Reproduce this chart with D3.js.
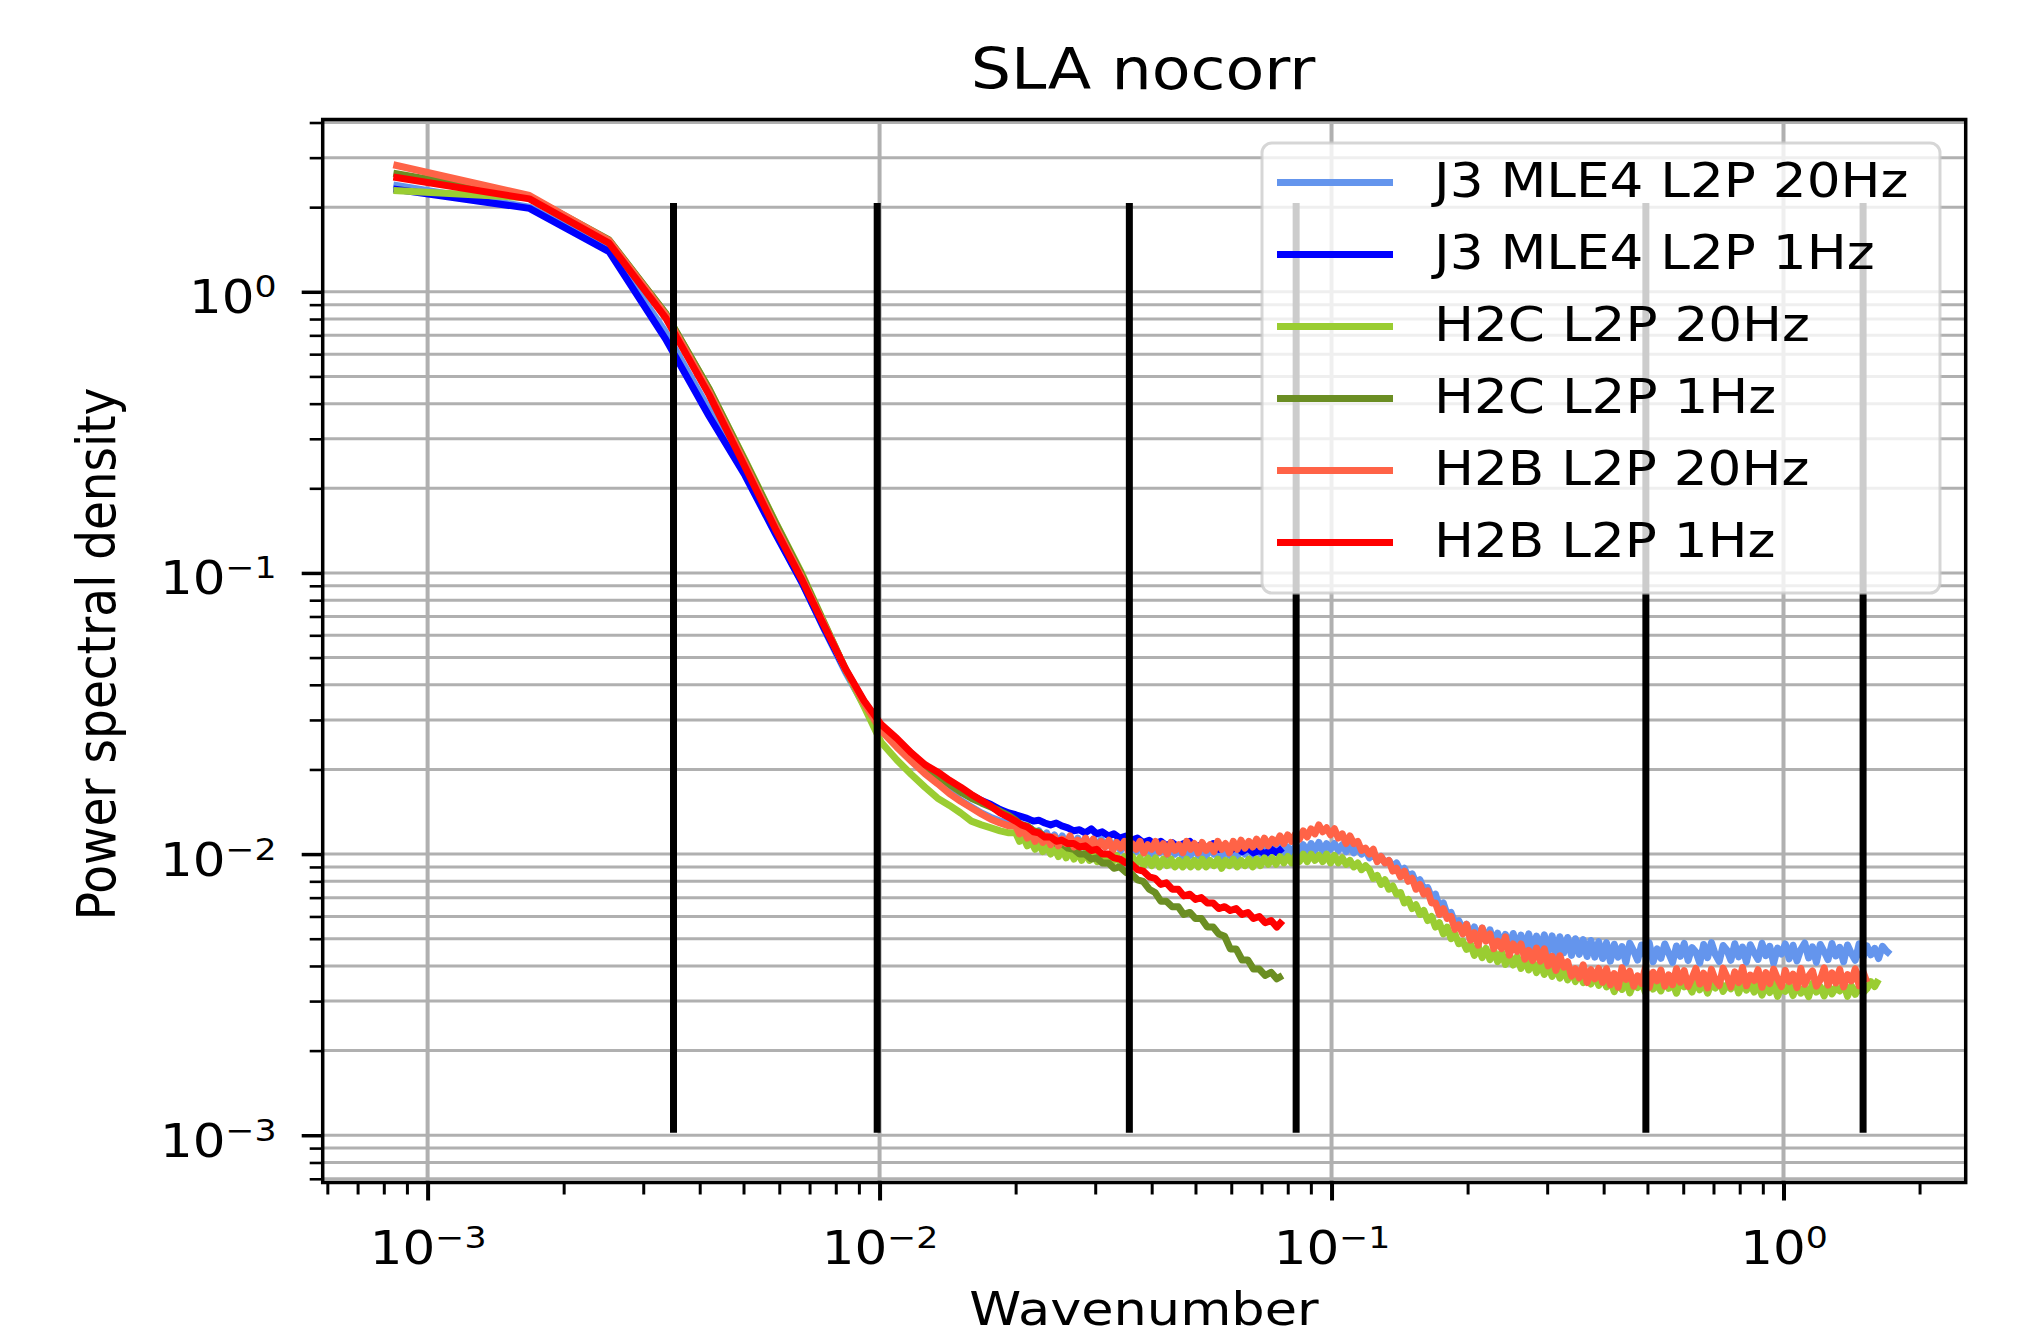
<!DOCTYPE html>
<html>
<head>
<meta charset="utf-8">
<script src="https://cdn.jsdelivr.net/npm/d3@7/dist/d3.min.js"></script>
<style>
  body { margin: 0; background: #fff; }
  svg text { font-family: "DejaVu Sans", sans-serif; fill: #000; }
</style>
</head>
<body>
<svg id="chart" width="2025" height="1338"></svg>
<script>
(function() {

  // wavenumber bins: first 23 are n * k0, shared by every series
  const kLow = [0.00084, 0.00168, 0.00252, 0.00336, 0.0042, 0.00504, 0.00588, 0.00672, 0.00756, 0.0084,
    0.00924, 0.01008, 0.01092, 0.01176, 0.0126, 0.01344, 0.01428, 0.01512, 0.01596, 0.0168,
    0.01764, 0.01848, 0.01932];
  // 1 Hz series continue on this grid up to their end
  const kHigh1 = [0.0200, 0.0206, 0.0212, 0.0219, 0.0225, 0.0232, 0.0239, 0.0246, 0.0253, 0.0261,
    0.0269, 0.0277, 0.0285, 0.0294, 0.0302, 0.0311, 0.0321, 0.0330, 0.0340, 0.0351,
    0.0361, 0.0372, 0.0383, 0.0395, 0.0407, 0.0419, 0.0431, 0.0444, 0.0458, 0.0471,
    0.0486, 0.0500, 0.0515, 0.0531, 0.0547, 0.0563, 0.0580, 0.0597, 0.0615, 0.0634,
    0.0653, 0.0672, 0.0692, 0.0713, 0.0735, 0.0757, 0.0779];
  // 20 Hz series continue on this finer grid
  const kHigh20 = [0.02000, 0.02040, 0.02081, 0.02122, 0.02165, 0.02208, 0.02252, 0.02297, 0.02343, 0.02390,
    0.02438, 0.02487, 0.02536, 0.02587, 0.02639, 0.02692, 0.02745, 0.02800, 0.02856, 0.02913,
    0.02972, 0.03031, 0.03092, 0.03154, 0.03217, 0.03281, 0.03347, 0.03414, 0.03482, 0.03551,
    0.03623, 0.03695, 0.03769, 0.03844, 0.03921, 0.04000, 0.04080, 0.04161, 0.04244, 0.04329,
    0.04416, 0.04504, 0.04594, 0.04686, 0.04780, 0.04876, 0.04973, 0.05073, 0.05174, 0.05278,
    0.05383, 0.05491, 0.05601, 0.05713, 0.05827, 0.05944, 0.06062, 0.06184, 0.06307, 0.06433,
    0.06562, 0.06693, 0.06827, 0.06964, 0.07103, 0.07245, 0.07390, 0.07538, 0.07689, 0.07842,
    0.07999, 0.08159, 0.08322, 0.08489, 0.08659, 0.08832, 0.09009, 0.09189, 0.09373, 0.09560,
    0.09751, 0.09946, 0.1015, 0.1035, 0.1056, 0.1077, 0.1098, 0.1120, 0.1143, 0.1165,
    0.1189, 0.1213, 0.1237, 0.1262, 0.1287, 0.1313, 0.1339, 0.1366, 0.1393, 0.1421,
    0.1449, 0.1478, 0.1508, 0.1538, 0.1569, 0.1600, 0.1632, 0.1665, 0.1698, 0.1732,
    0.1767, 0.1802, 0.1838, 0.1875, 0.1912, 0.1951, 0.1990, 0.2029, 0.2070, 0.2111,
    0.2154, 0.2197, 0.2241, 0.2285, 0.2331, 0.2378, 0.2425, 0.2474, 0.2523, 0.2574,
    0.2625, 0.2678, 0.2731, 0.2786, 0.2841, 0.2898, 0.2956, 0.3015, 0.3076, 0.3137,
    0.3200, 0.3264, 0.3329, 0.3396, 0.3464, 0.3533, 0.3604, 0.3676, 0.3749, 0.3824,
    0.3901, 0.3979, 0.4058, 0.4139, 0.4222, 0.4307, 0.4393, 0.4481, 0.4570, 0.4662,
    0.4755, 0.4850, 0.4947, 0.5046, 0.5147, 0.5250, 0.5355, 0.5462, 0.5571, 0.5683,
    0.5796, 0.5912, 0.6030, 0.6151, 0.6274, 0.6399, 0.6527, 0.6658, 0.6791, 0.6927,
    0.7066, 0.7207, 0.7351, 0.7498, 0.7648, 0.7801, 0.7957, 0.8116, 0.8278, 0.8444,
    0.8613, 0.8785, 0.8961, 0.9140, 0.9323, 0.9509, 0.9700, 0.9894, 1.0091, 1.0293,
    1.0499, 1.0709, 1.0923, 1.1142, 1.1365, 1.1592, 1.1824, 1.2060, 1.2301, 1.2547,
    1.2798, 1.3054, 1.3315, 1.3582, 1.3853, 1.4130, 1.4413, 1.4701, 1.4995, 1.5295,
    1.5601, 1.5913, 1.6231, 1.6556, 1.6887, 1.7225];

  // PSD on kLow
  const j3_20hz_low = [2.40, 2.00, 1.42, 0.72, 0.38, 0.228, 0.140, 0.093, 0.0625, 0.0445, 0.0338, 0.0278,
    0.0243, 0.0217, 0.0196, 0.0180, 0.0166, 0.0155, 0.0147, 0.0140, 0.0135, 0.0131, 0.0129];
  const j3_1hz_low = [2.32, 1.98, 1.39, 0.68, 0.36, 0.222, 0.138, 0.093, 0.063, 0.0452, 0.0348, 0.0286,
    0.0255, 0.0226, 0.0205, 0.0192, 0.0180, 0.0171, 0.0162, 0.0155, 0.0150, 0.0144, 0.0140];
  const h2c_20hz_low = [2.29, 2.16, 1.52, 0.84, 0.45, 0.252, 0.152, 0.100, 0.066, 0.0455, 0.0335, 0.0250,
    0.0216, 0.0192, 0.0173, 0.0158, 0.0149, 0.0140, 0.0131, 0.0127, 0.0124, 0.0121, 0.0119];
  const h2c_1hz_low = [2.64, 2.18, 1.53, 0.84, 0.45, 0.25, 0.151, 0.099, 0.0655, 0.0455, 0.0345, 0.0280,
    0.0255, 0.0228, 0.0206, 0.0190, 0.0177, 0.0166, 0.0158, 0.0152, 0.0147, 0.0142, 0.0137];
  const h2b_20hz_low = [2.83, 2.20, 1.52, 0.83, 0.44, 0.245, 0.147, 0.097, 0.065, 0.0455, 0.0345, 0.0275,
    0.0240, 0.0214, 0.0193, 0.0178, 0.0164, 0.0154, 0.0146, 0.0139, 0.0133, 0.0129, 0.0126];
  const h2b_1hz_low = [2.56, 2.14, 1.49, 0.81, 0.429, 0.238, 0.1435, 0.0951, 0.0643, 0.0457, 0.0351, 0.0289,
    0.0258, 0.0229, 0.0208, 0.0196, 0.0183, 0.0173, 0.0163, 0.0155, 0.0148, 0.0140, 0.0135];

  // PSD on kHigh20 (20 Hz, noisy; each stops at its own last bin)
  const j3_20hz_high = [0.0131, 0.0122, 0.0127, 0.0118, 0.0123, 0.0115, 0.0121, 0.0113, 0.0119, 0.0111, 0.0117,
    0.0109, 0.0116, 0.0108, 0.0115, 0.0107, 0.0114, 0.0106, 0.0114, 0.0106, 0.0113,
    0.0105, 0.0113, 0.0106, 0.0112, 0.0104, 0.0111, 0.0103, 0.0110, 0.0104, 0.0109, 0.0102, 0.0109, 0.0101, 0.0108,
    0.0100, 0.0107, 0.0101, 0.0106, 0.0099, 0.0106, 0.0100, 0.0105, 0.0098, 0.0106, 0.0099, 0.0105, 0.0099,
    0.0105, 0.0098, 0.0106, 0.0100, 0.0104, 0.0097, 0.0105, 0.0099, 0.0106, 0.0098, 0.0104, 0.0100, 0.0106,
    0.0099, 0.0106, 0.0100, 0.0107, 0.0099, 0.0105, 0.0101, 0.0107, 0.0100, 0.0106,
    0.0101, 0.0107, 0.0102, 0.0108, 0.0101, 0.0109, 0.0103, 0.0110, 0.0102, 0.0109, 0.0104,
    0.0109, 0.0103, 0.0108, 0.0102, 0.0107, 0.0101,
    0.0106, 0.0100, 0.0103, 0.0097, 0.0100, 0.0095, 0.0098, 0.0093, 0.0095, 0.0090,
    0.0093, 0.0087, 0.0089, 0.0083, 0.0085, 0.0079, 0.0081, 0.0075, 0.0076, 0.0070,
    0.0072, 0.0065, 0.0067, 0.0061, 0.0062, 0.0057, 0.0058, 0.0054,
    0.00563, 0.00512, 0.00551, 0.00503, 0.00545, 0.00496, 0.00538, 0.00487, 0.00523, 0.00478, 0.00518, 0.00468,
    0.00522, 0.00458, 0.00515, 0.00462, 0.00520, 0.00452, 0.00511, 0.00460, 0.00516, 0.00447,
    0.00512, 0.00441, 0.00508, 0.00445, 0.00505, 0.00436, 0.00500, 0.00440, 0.00496, 0.00432,
    0.00493, 0.00430, 0.00488, 0.00425, 0.00484,
    0.00416, 0.00478, 0.00430, 0.00469, 0.00411, 0.00482, 0.00452, 0.00420, 0.00475, 0.00437,
    0.00483, 0.00414, 0.00460, 0.00426, 0.00479, 0.00444, 0.00412, 0.00471, 0.00433, 0.00481,
    0.00418, 0.00465, 0.00448, 0.00410, 0.00477, 0.00428, 0.00484, 0.00439, 0.00415, 0.00473,
    0.00455, 0.00419, 0.00480, 0.00431, 0.00467, 0.00413, 0.00476, 0.00446, 0.00422, 0.00482,
    0.00435, 0.00470, 0.00409, 0.00463, 0.00441, 0.00479, 0.00424, 0.00474, 0.00417, 0.00458,
    0.00483, 0.00427, 0.00468, 0.00412, 0.00477, 0.00450, 0.00421, 0.00481, 0.00434, 0.00466,
    0.00414, 0.00475, 0.00443, 0.00419, 0.00480, 0.00429, 0.00472, 0.00438, 0.00462, 0.00425,
    0.00470, 0.00452, 0.00440];
  const h2c_20hz_high = [0.0119, 0.0111, 0.0115, 0.0107, 0.0111, 0.0104, 0.0109, 0.0102, 0.0107, 0.0100, 0.0105,
    0.0098, 0.0104, 0.0097, 0.0103, 0.0096, 0.0102, 0.0095, 0.0101, 0.0095, 0.0100,
    0.0094, 0.0100, 0.0093, 0.0099, 0.0094, 0.0099, 0.0092, 0.0098, 0.0093, 0.0098, 0.0092, 0.0097, 0.0091, 0.0097,
    0.0091, 0.0097, 0.0090, 0.0096, 0.0091, 0.0096, 0.0090, 0.0095, 0.0090, 0.0096, 0.0090, 0.0095, 0.0090,
    0.0096, 0.0090, 0.0095, 0.0091, 0.0096, 0.0089, 0.0095, 0.0091, 0.0096, 0.0090, 0.0095, 0.0091, 0.0096, 0.0090, 0.0096,
    0.0091, 0.0097, 0.0092, 0.0097, 0.0092, 0.0098, 0.0093, 0.0098, 0.0093, 0.0099, 0.0094,
    0.0100, 0.0094, 0.0100, 0.0095, 0.0099, 0.0094, 0.0100,
    0.0093, 0.0099, 0.0093, 0.0097, 0.0092, 0.0095, 0.0090, 0.0093, 0.0088, 0.0091,
    0.0088, 0.0082, 0.0084, 0.0078, 0.0081, 0.0075, 0.0077, 0.0072, 0.0073, 0.0067,
    0.0069, 0.0064, 0.0066, 0.0061, 0.0063, 0.0058, 0.0060, 0.0055, 0.0057, 0.0052,
    0.0055, 0.0050, 0.0052, 0.0048, 0.0049,
    0.00458, 0.00479, 0.00436, 0.00470, 0.00428, 0.00462, 0.00421, 0.00455, 0.00414, 0.00447,
    0.00405, 0.00439, 0.00403, 0.00432, 0.00392, 0.00424, 0.00387, 0.00418, 0.00379, 0.00410,
    0.00373, 0.00403, 0.00367, 0.00397, 0.00362, 0.00392, 0.00357, 0.00386, 0.00352, 0.00381,
    0.00349, 0.00377, 0.00345, 0.00373, 0.00341, 0.00369, 0.00337,
    0.00355, 0.00324, 0.00349, 0.00330, 0.00358, 0.00321, 0.00346, 0.00335, 0.00353, 0.00322,
    0.00357, 0.00331, 0.00344, 0.00326, 0.00359, 0.00333, 0.00348, 0.00320, 0.00354, 0.00337,
    0.00345, 0.00323, 0.00356, 0.00329, 0.00351, 0.00320, 0.00347, 0.00334, 0.00358, 0.00325,
    0.00343, 0.00332, 0.00355, 0.00321, 0.00350, 0.00328, 0.00346, 0.00323,
    0.00345, 0.00315, 0.00339, 0.00322, 0.00348, 0.00312, 0.00336, 0.00325, 0.00343, 0.00314,
    0.00346, 0.00320, 0.00334, 0.00311, 0.00347, 0.00323, 0.00338, 0.00313, 0.00344, 0.00318,
    0.00335, 0.00326, 0.00346, 0.00312, 0.00340, 0.00317, 0.00337, 0.00321,
    0.00332, 0.00352, 0.00338, 0.00358];
  const h2b_20hz_high = [0.0126, 0.0118, 0.0122, 0.0114, 0.0119, 0.0111, 0.0117, 0.0110, 0.0116, 0.0108,
    0.0115, 0.0107, 0.0113, 0.0109, 0.0116, 0.0106, 0.0112, 0.0108, 0.0114, 0.0105,
    0.0113, 0.0104, 0.0111, 0.0106, 0.0112, 0.0103, 0.0110, 0.0105, 0.0111, 0.0102,
    0.0109, 0.0104, 0.0111, 0.0101, 0.0108, 0.0104, 0.0111, 0.0102, 0.0109, 0.0100,
    0.0110, 0.0103, 0.0108, 0.0101, 0.0111, 0.0104, 0.0109, 0.0101, 0.0110, 0.0103,
    0.0108, 0.0102, 0.0111, 0.0104, 0.0109, 0.0101, 0.0111, 0.0104, 0.0112, 0.0105,
    0.0111, 0.0106, 0.0113, 0.0106, 0.0114, 0.0107, 0.0113, 0.0109, 0.0116, 0.0109,
    0.0117, 0.0111, 0.0118, 0.0113, 0.0121, 0.0115, 0.0123, 0.0118, 0.0127, 0.0120,
    0.0124, 0.0117,
    0.0123, 0.0114, 0.0118, 0.0109, 0.0116, 0.0109, 0.0111, 0.0103, 0.0105, 0.0100,
    0.0104, 0.0094, 0.0098, 0.0093, 0.0095, 0.0087, 0.0089, 0.0083, 0.0087, 0.0080,
    0.0082, 0.0075, 0.0078, 0.0072, 0.0074, 0.0067, 0.0067, 0.0061, 0.0064, 0.0059,
    0.0060, 0.0054, 0.0056, 0.0052,
    0.00562, 0.00494, 0.00525, 0.00474, 0.00546, 0.00490, 0.00520, 0.00461, 0.00490, 0.00461,
    0.00508, 0.00437, 0.00479, 0.00451, 0.00479, 0.00423, 0.00454, 0.00418, 0.00463, 0.00416,
    0.00460, 0.00400, 0.00433, 0.00386, 0.00435, 0.00396, 0.00414, 0.00368, 0.00391, 0.00363,
    0.00404, 0.00349, 0.00388, 0.00360, 0.00392, 0.00350,
    0.00391, 0.00343, 0.00376, 0.00336, 0.00394, 0.00358, 0.00383, 0.00339, 0.00369, 0.00347,
    0.00394, 0.00336, 0.00380, 0.00354, 0.00387, 0.00339, 0.00372, 0.00343, 0.00391, 0.00350,
    0.00385, 0.00338, 0.00362, 0.00392, 0.00345, 0.00377, 0.00334, 0.00389, 0.00356, 0.00341,
    0.00393, 0.00366, 0.00337, 0.00381, 0.00349, 0.00395, 0.00340, 0.00371, 0.00355, 0.00388,
    0.00336, 0.00379, 0.00346, 0.00390, 0.00360, 0.00338, 0.00386, 0.00352, 0.00374, 0.00335,
    0.00392, 0.00344, 0.00368, 0.00384, 0.00339, 0.00357, 0.00394, 0.00342, 0.00378, 0.00348,
    0.00389, 0.00337, 0.00373, 0.00354, 0.00391, 0.00340, 0.00382, 0.00350];

  // PSD on kHigh1 (1 Hz)
  const j3_1hz_high = [0.0138, 0.0136, 0.0134, 0.0131, 0.0132, 0.0129, 0.0127, 0.0129, 0.0126, 0.0124,
    0.0121, 0.0122, 0.0119, 0.0123, 0.0118, 0.0120, 0.0116, 0.0118, 0.0114, 0.0116,
    0.0112, 0.0114, 0.0110, 0.0112, 0.0108, 0.0111, 0.0107, 0.0110, 0.0106, 0.0109,
    0.0111, 0.0106, 0.0108, 0.0105, 0.0109, 0.0104, 0.0107, 0.0103, 0.0106, 0.0102,
    0.0105, 0.0101, 0.0103, 0.0100, 0.0104, 0.0101, 0.0105];
  const h2c_1hz_high = [0.0132, 0.0127, 0.0126, 0.0121, 0.0120, 0.0115, 0.0114, 0.0109, 0.0109, 0.0105,
    0.0104, 0.0100, 0.0100, 0.0096, 0.0097, 0.0093, 0.0093, 0.0089, 0.0090, 0.0086,
    0.0085, 0.0081, 0.0080, 0.0075, 0.0073, 0.0068, 0.0068, 0.0065, 0.0065, 0.0061,
    0.0062, 0.0059, 0.0059, 0.0055, 0.0055, 0.0052, 0.0051, 0.0046, 0.0046, 0.0042,
    0.0042, 0.0039, 0.0039, 0.0037, 0.0038, 0.0036, 0.0037];
  const h2b_1hz_high = [0.0131, 0.0127, 0.0125, 0.0120, 0.0119, 0.0115, 0.0115, 0.0111, 0.0112, 0.0109,
    0.0109, 0.0106, 0.0107, 0.0103, 0.0104, 0.0100, 0.0100, 0.0097, 0.0096, 0.0093,
    0.0092, 0.0088, 0.0087, 0.0083, 0.0082, 0.0078, 0.0079, 0.0075, 0.0075, 0.0071,
    0.0072, 0.0069, 0.0070, 0.0067, 0.0067, 0.0064, 0.0065, 0.0063, 0.0064, 0.0061,
    0.0062, 0.0059, 0.0060, 0.0057, 0.0058, 0.0055, 0.0058];

  const seriesNames = ['J3 MLE4 L2P 20Hz', 'J3 MLE4 L2P 1Hz', 'H2C L2P 20Hz', 'H2C L2P 1Hz', 'H2B L2P 20Hz', 'H2B L2P 1Hz'];
  const seriesColors = ['#6495ed', '#0000ff', '#9acd32', '#6b8e23', '#ff6347', '#ff0000'];
  const k20 = kLow.concat(kHigh20);
  const k1 = kLow.concat(kHigh1);
  const seriesK = [k20, k1, k20, k1, k20, k1];
  const seriesValues = [
    j3_20hz_low.concat(j3_20hz_high),
    j3_1hz_low.concat(j3_1hz_high),
    h2c_20hz_low.concat(h2c_20hz_high),
    h2c_1hz_low.concat(h2c_1hz_high),
    h2b_20hz_low.concat(h2b_20hz_high),
    h2b_1hz_low.concat(h2b_1hz_high)
  ];

  // black reference wavenumbers and their vertical extent
  const markerK = [0.0035, 0.00988, 0.0357, 0.0835, 0.496, 1.5];
  const markerSpan = [0.00102, 2.07];

  const xDomain = [5.86e-4, 2.53];
  const yDomain = [6.79e-4, 4.1];

  const plot = {left: 322.7, right: 1965.7, top: 119.5, bottom: 1182.5};
  const widenBy = 1.12; // source picture was stretched sideways

  const svg = d3.select('#chart');

  const x = d3.scaleLog().domain(xDomain).range([plot.left, plot.right]);
  const y = d3.scaleLog().domain(yDomain).range([plot.bottom, plot.top]);

  const isMajor = v => Math.abs(Math.log10(v) - Math.round(Math.log10(v))) < 1e-6;
  const xTicks = x.ticks();
  const yTicks = y.ticks();

  function widen(sel, f) {
    sel.each(function() {
      const len = this.getComputedTextLength();
      d3.select(this).attr('textLength', len * f).attr('lengthAdjust', 'spacingAndGlyphs');
    });
  }

  function powerLabel(sel) {
    sel.each(function(d) {
      const e = Math.round(Math.log10(d));
      const t = d3.select(this).text(null);
      t.append('tspan').text('10');
      t.append('tspan')
        .attr('font-size', 31)
        .attr('dy', -16)
        .text(e < 0 ? '\u2212' + (-e) : String(e));
    });
  }

  svg.append('rect').attr('width', 2025).attr('height', 1338).attr('fill', '#fff');

  svg.append('defs').append('clipPath').attr('id', 'plotclip')
    .append('rect')
      .attr('x', plot.left).attr('y', plot.top)
      .attr('width', plot.right - plot.left).attr('height', plot.bottom - plot.top);

  // grid: all decades and minors on y, decades only on x
  const grid = svg.append('g').attr('stroke', '#b0b0b0').attr('clip-path', 'url(#plotclip)');
  grid.selectAll('.hgrid')
    .data(yTicks)
    .join('line')
      .attr('class', 'hgrid')
      .attr('x1', plot.left).attr('x2', plot.right)
      .attr('y1', d => y(d)).attr('y2', d => y(d))
      .attr('stroke-width', 3);
  grid.selectAll('.vgrid')
    .data(xTicks.filter(isMajor))
    .join('line')
      .attr('class', 'vgrid')
      .attr('y1', plot.top).attr('y2', plot.bottom)
      .attr('x1', d => x(d)).attr('x2', d => x(d))
      .attr('stroke-width', 4);

  const valueLine = d3.line()
    .x(d => x(d[0]))
    .y(d => y(d[1]));

  svg.append('g')
    .attr('clip-path', 'url(#plotclip)')
    .selectAll('path')
    .data(seriesValues.map((vals, s) => vals.map((v, i) => [seriesK[s][i], v])))
    .join('path')
      .attr('d', valueLine)
      .attr('fill', 'none')
      .attr('stroke', (d, i) => seriesColors[i])
      .attr('stroke-width', 7)
      .attr('stroke-linejoin', 'round');

  svg.append('g')
    .selectAll('line')
    .data(markerK)
    .join('line')
      .attr('x1', d => x(d)).attr('x2', d => x(d))
      .attr('y1', y(markerSpan[0])).attr('y2', y(markerSpan[1]))
      .attr('stroke', '#000')
      .attr('stroke-width', 7);

  svg.append('rect')
    .attr('x', plot.left).attr('y', plot.top)
    .attr('width', plot.right - plot.left).attr('height', plot.bottom - plot.top)
    .attr('fill', 'none').attr('stroke', '#000').attr('stroke-width', 3.5);

  // y axis
  const yMinorAxis = svg.append('g')
    .attr('transform', `translate(${plot.left},0)`)
    .call(d3.axisLeft(y).tickValues(yTicks.filter(v => !isMajor(v))).tickSize(13).tickFormat(''));
  yMinorAxis.selectAll('line').attr('stroke-width', 2.6);

  const yMajorAxis = svg.append('g')
    .attr('transform', `translate(${plot.left},0)`)
    .call(d3.axisLeft(y).tickValues(yTicks.filter(isMajor)).tickSize(21).tickPadding(25));
  yMajorAxis.selectAll('line').attr('stroke-width', 3.5);
  yMajorAxis.selectAll('text')
    .attr('dy', 21)
    .attr('font-size', 46)
    .call(powerLabel)
    .call(widen, widenBy);

  // x axis
  const xMinorAxis = svg.append('g')
    .attr('transform', `translate(0,${plot.bottom})`)
    .call(d3.axisBottom(x).tickValues(xTicks.filter(v => !isMajor(v))).tickSize(12).tickFormat(''));
  xMinorAxis.selectAll('line').attr('stroke-width', 3);

  const xMajorAxis = svg.append('g')
    .attr('transform', `translate(0,${plot.bottom})`)
    .call(d3.axisBottom(x).tickValues(xTicks.filter(isMajor)).tickSize(18));
  xMajorAxis.selectAll('line').attr('stroke-width', 4);
  xMajorAxis.selectAll('text')
    .attr('y', 81.5)
    .attr('dy', 0)
    .attr('font-size', 46)
    .call(powerLabel)
    .call(widen, widenBy);

  svg.selectAll('.domain').remove();
  svg.selectAll('.tick line').attr('stroke', '#000');
  svg.selectAll('.tick text').attr('fill', '#000').attr('font-family', '"DejaVu Sans", sans-serif');

  // legend
  const legend = svg.append('g');
  legend.append('rect')
    .attr('x', 1262).attr('y', 143)
    .attr('width', 678).attr('height', 450)
    .attr('rx', 10).attr('ry', 10)
    .attr('fill', '#fff').attr('fill-opacity', 0.8)
    .attr('stroke', '#cccccc').attr('stroke-opacity', 0.8).attr('stroke-width', 3);

  const rows = legend.selectAll('.row')
    .data(seriesNames)
    .join('g')
      .attr('class', 'row')
      .attr('transform', (d, i) => `translate(0,${182.5 + i * 72})`);
  rows.append('line')
    .attr('x1', 1277).attr('x2', 1393)
    .attr('stroke', (d, i) => seriesColors[i])
    .attr('stroke-width', 7);
  rows.append('text')
    .attr('x', 1434).attr('y', 14.4)
    .attr('font-size', 47.5)
    .text(d => d)
    .call(widen, widenBy);

  // titles
  svg.append('text')
    .attr('x', 1143).attr('y', 89)
    .attr('text-anchor', 'middle')
    .attr('font-size', 56.7)
    .text('SLA nocorr')
    .call(widen, widenBy);

  svg.append('text')
    .attr('x', 1144).attr('y', 1325)
    .attr('text-anchor', 'middle')
    .attr('font-size', 46)
    .text('Wavenumber')
    .call(widen, widenBy * 1.02);

  svg.append('text')
    .attr('transform', `translate(115,654) scale(${widenBy},1) rotate(-90)`)
    .attr('text-anchor', 'middle')
    .attr('font-size', 47)
    .text('Power spectral density');

}());
</script>
</body>
</html>
